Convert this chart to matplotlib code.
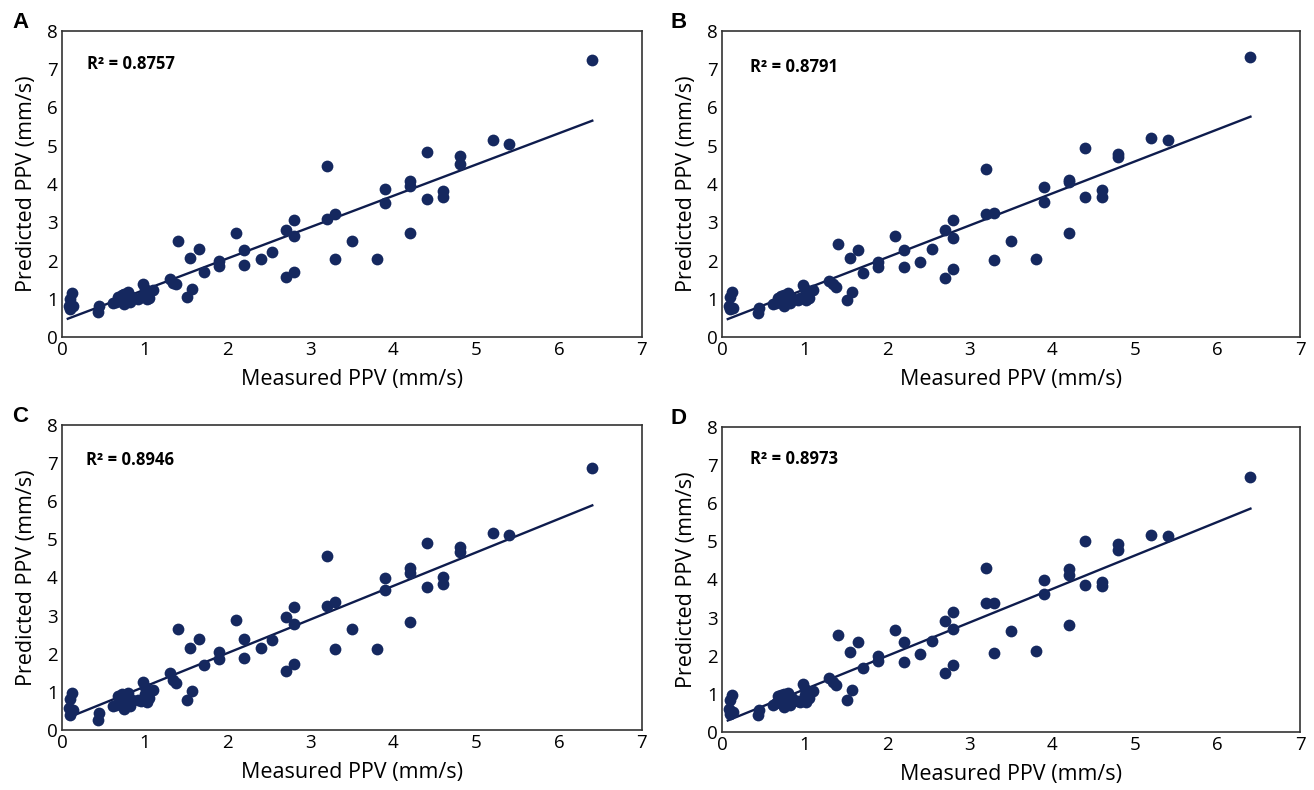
import matplotlib
matplotlib.use("Agg")
import matplotlib.pyplot as plt
import numpy as np

# Measured PPV (mm/s) - shared by all panels
measured = [0.12, 0.10, 0.08, 0.13, 0.10,
            0.43, 0.45,
            0.62, 0.65, 0.68, 0.70, 0.72, 0.75, 0.75, 0.78, 0.80, 0.80, 0.82, 0.85,
            0.92, 0.95, 0.98, 1.00, 1.00, 1.02, 1.05,
            1.10,
            1.30, 1.34, 1.38, 1.40,
            1.51, 1.55, 1.57,
            1.65, 1.71,
            1.89, 1.89,
            2.10, 2.20, 2.20,
            2.40, 2.54,
            2.70, 2.70, 2.80, 2.80, 2.80,
            3.20, 3.20, 3.30, 3.30,
            3.50, 3.80,
            3.90, 3.90,
            4.20, 4.20, 4.20,
            4.40, 4.40,
            4.60, 4.60,
            4.80, 4.80,
            5.20, 5.40,
            6.40]

pred_A = [1.15, 0.99, 0.81, 0.80, 0.74,
          0.66, 0.80,
          0.88, 0.92, 1.05, 1.00, 1.10, 0.85, 1.12, 0.95, 1.18, 1.00, 0.92, 1.05,
          1.00, 1.05, 1.38, 1.25, 1.08, 1.00, 1.02,
          1.22,
          1.52, 1.42, 1.38, 2.52,
          1.05, 2.07, 1.25,
          2.30, 1.70,
          1.98, 1.85,
          2.72, 2.27, 1.87,
          2.04, 2.22,
          2.79, 1.56, 3.05, 2.64, 1.70,
          4.47, 3.08, 3.21, 2.04,
          2.52, 2.04,
          3.87, 3.50,
          4.09, 3.96, 2.71,
          4.84, 3.60,
          3.82, 3.65,
          4.73, 4.53,
          5.14, 5.05,
          7.23]

pred_B = [1.18, 1.05, 0.81, 0.76, 0.72,
          0.64, 0.77,
          0.85, 0.90, 1.02, 0.98, 1.08, 0.82, 1.10, 0.92, 1.15, 0.98, 0.90, 1.02,
          0.98, 1.02, 1.36, 1.25, 1.06, 0.98, 1.02,
          1.24,
          1.46, 1.38, 1.30, 2.44,
          0.98, 2.06, 1.18,
          2.27, 1.68,
          1.96, 1.83,
          2.64, 2.27, 1.82,
          1.97, 2.30,
          2.79, 1.55, 3.05, 2.60, 1.78,
          4.40, 3.21, 3.23, 2.02,
          2.52, 2.04,
          3.91, 3.53,
          4.10, 4.04, 2.71,
          4.95, 3.67,
          3.84, 3.67,
          4.79, 4.70,
          5.21, 5.14,
          7.31]

pred_C = [0.96, 0.81, 0.57, 0.52, 0.39,
          0.25, 0.44,
          0.62, 0.65, 0.88, 0.78, 0.95, 0.55, 0.92, 0.72, 0.98, 0.85, 0.62, 0.80,
          0.78, 0.75, 1.27, 1.14, 0.95, 0.74, 0.83,
          1.05,
          1.49, 1.31, 1.23, 2.66,
          0.79, 2.15, 1.03,
          2.40, 1.70,
          2.04, 1.85,
          2.88, 2.40, 1.88,
          2.14, 2.36,
          2.97, 1.55, 3.22, 2.77, 1.73,
          4.56, 3.25, 3.37, 2.13,
          2.66, 2.13,
          4.00, 3.67,
          4.24, 4.13, 2.84,
          4.90, 3.74,
          4.02, 3.82,
          4.80, 4.68,
          5.16, 5.12,
          6.86]

pred_D = [0.97, 0.84, 0.60, 0.52, 0.48,
          0.44, 0.58,
          0.72, 0.75, 0.95, 0.85, 0.98, 0.65, 1.00, 0.80, 1.02, 0.90, 0.70, 0.88,
          0.82, 0.78, 1.27, 1.14, 0.98, 0.80, 0.90,
          1.08,
          1.42, 1.31, 1.23, 2.55,
          0.85, 2.10, 1.09,
          2.36, 1.68,
          1.99, 1.85,
          2.67, 2.36, 1.83,
          2.04, 2.40,
          2.90, 1.55, 3.15, 2.70, 1.77,
          4.31, 3.38, 3.38, 2.07,
          2.64, 2.12,
          4.00, 3.63,
          4.28, 4.13, 2.81,
          5.01, 3.86,
          3.93, 3.82,
          4.94, 4.78,
          5.16, 5.13,
          6.69]

panel_letters = ["A", "B", "C", "D"]
r2_labels = ["R² = 0.8757", "R² = 0.8791", "R² = 0.8946", "R² = 0.8973"]
# fitted trend lines (slope, intercept)
fit_slope = [0.818, 0.836, 0.880, 0.878]
fit_intercept = [0.42, 0.41, 0.26, 0.24]
fit_x_range = [0.07, 6.40]

x_ticks = [0, 1, 2, 3, 4, 5, 6, 7]
y_ticks = [0, 1, 2, 3, 4, 5, 6, 7, 8]

preds = [pred_A, pred_B, pred_C, pred_D]

W, H = 1314, 790
fig = plt.figure(figsize=(W / 100, H / 100), dpi=100)

# axes boxes in pixels: left, right, top, bottom
boxes = [(62, 642, 31, 337), (722, 1300, 31, 337),
         (62, 642, 425, 730), (722, 1300, 427, 732)]
letter_pos = [(12, 22), (670, 22), (12, 416), (670, 418)]
r2_pos = [(0.30, 7.15), (0.34, 7.05), (0.29, 7.08), (0.34, 7.17)]

dot_color = "#15285f"
line_color = "#0e1c4d"
label_font = "Open Sans"

for i in range(4):
    l, r, t, b = boxes[i]
    ax = fig.add_axes([l / W, 1 - b / H, (r - l) / W, (b - t) / H])
    ax.scatter(measured, preds[i], s=72, color=dot_color, zorder=3, linewidths=0)
    xs = np.array(fit_x_range)
    ax.plot(xs, fit_slope[i] * xs + fit_intercept[i], color=line_color, lw=1.7, zorder=2)
    ax.set_xlim(0, 7)
    ax.set_ylim(0, 8)
    ax.set_xticks(x_ticks)
    ax.set_yticks(y_ticks)
    ax.tick_params(length=0, labelsize=13.5, pad=3)
    for lab in ax.get_xticklabels() + ax.get_yticklabels():
        lab.set_family(label_font)
    for s in ax.spines.values():
        s.set_color("#333333")
        s.set_linewidth(1.2)
    ax.set_xlabel("Measured PPV (mm/s)", fontsize=15.5, family=label_font, labelpad=7)
    ax.set_ylabel("Predicted PPV (mm/s)", fontsize=15.5, family=label_font, labelpad=7)
    ax.text(r2_pos[i][0], r2_pos[i][1], r2_labels[i], fontsize=12, fontweight="bold",
            family=label_font, va="center", ha="left")
    lx, ly = letter_pos[i]
    fig.text(lx / W, 1 - ly / H, panel_letters[i], fontsize=16, fontweight="bold",
             family="Liberation Sans", va="center", ha="left")

fig.savefig("out.png", dpi=100, facecolor="white")
